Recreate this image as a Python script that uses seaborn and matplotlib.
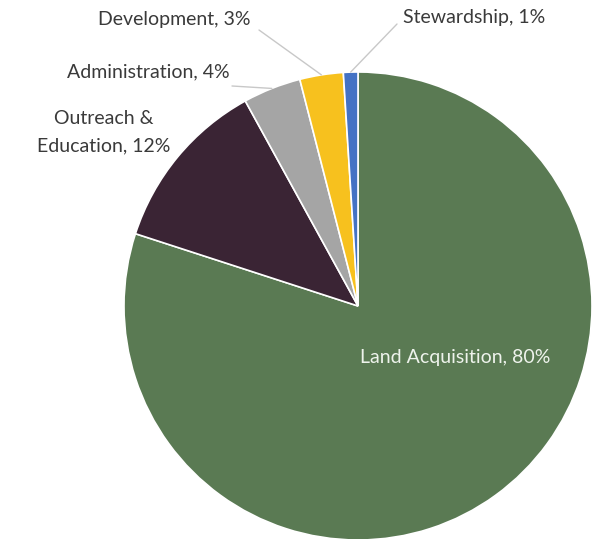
import numpy as np
import matplotlib
matplotlib.use("Agg")
import matplotlib.pyplot as plt
import seaborn as sns

categories = ["Land Acquisition", "Outreach &\nEducation", "Administration", "Development", "Stewardship"]
values = [80, 12, 4, 3, 1]
colors = ["#5a7a53", "#3a2434", "#a5a5a5", "#f7c11e", "#4472c4"]

sns.set_theme(style="white")
plt.rcParams["font.family"] = ["Lato", "DejaVu Sans"]

W, H = 615, 539
fig = plt.figure(figsize=(W / 100, H / 100), dpi=100)
ax = fig.add_axes([0, 0, 1, 1])

cx, cy, r = 358, H - 306, 234
palette = sns.color_palette(colors)
wedges, _ = ax.pie(values, colors=palette, startangle=90, counterclock=False,
                   center=(cx, cy), radius=r, frame=True,
                   wedgeprops=dict(edgecolor="white", linewidth=1.2))
ax.set_xlim(0, W)
ax.set_ylim(0, H)
ax.axis("off")

txt = "#3a3a3a"
fs = 14
labels = [f"{c}, {v}%" for c, v in zip(categories, values)]

# inside label
ax.text(455, H - 357, labels[0], color="#eef3ec", fontsize=fs, ha="center", va="center")
# outside labels
ax.text(104, H - 132, labels[1], color=txt, fontsize=fs, ha="center", va="center",
        linespacing=1.7)
ax.text(148, H - 72, labels[2], color=txt, fontsize=fs, ha="center", va="center")
ax.text(174, H - 20, labels[3], color=txt, fontsize=fs, ha="center", va="center")
ax.text(474, H - 18, labels[4], color=txt, fontsize=fs, ha="center", va="center")

# leader lines to wedge mid arcs
def arc_point(w):
    a = np.deg2rad((w.theta1 + w.theta2) / 2)
    return cx + r * np.cos(a), cy + r * np.sin(a)

starts = {2: (232, H - 86), 3: (259, H - 30), 4: (397, H - 24)}
for i, (sx, sy) in starts.items():
    ex, ey = arc_point(wedges[i])
    ax.plot([sx, ex], [sy, ey], color="#c8c8c8", lw=1)

fig.savefig("out.png", dpi=100, facecolor="white")
